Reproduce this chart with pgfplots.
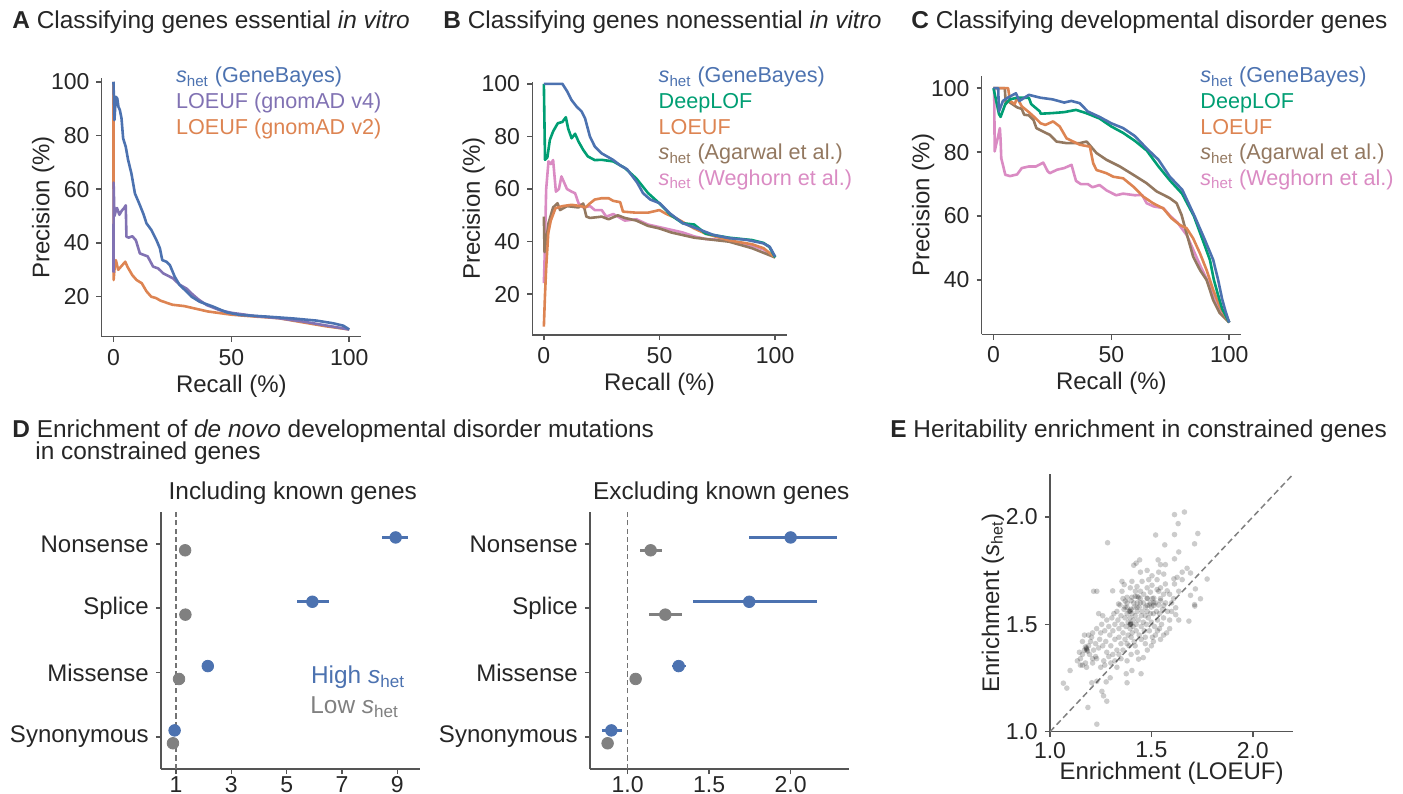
\documentclass[border=0pt]{standalone}
\usepackage{fontspec}
\setmainfont{Liberation Sans}
\usepackage{pgfplots}
\pgfplotsset{compat=1.18}
\definecolor{cblue}{RGB}{76,114,176}
\definecolor{cpurple}{RGB}{129,114,179}
\definecolor{corange}{RGB}{221,132,82}
\definecolor{cgreen}{RGB}{0,158,115}
\definecolor{cbrown}{RGB}{147,120,96}
\definecolor{cpink}{RGB}{218,139,195}
\definecolor{cgray}{RGB}{128,128,128}
\definecolor{spine}{RGB}{85,85,85}
\definecolor{txt}{RGB}{38,38,38}
\newcommand{\fs}[1]{\fontsize{#1}{#1}\selectfont}
\newcommand{\shet}{\textit{s}\textsubscript{het}}

\pgfplotsset{
  panel/.style={
    scale only axis, anchor=south west,
    axis x line*=bottom, axis y line*=left,
    axis line style={line width=0.75pt, draw=spine},
    tick style={line width=0.75pt, draw=spine},
    tick align=outside, major tick length=2.6pt, tick pos=left,
    tick label style={font=\fs{11.5}, text=txt},
    label style={font=\fs{12}, text=txt},
    /pgf/number format/assume math mode=true,
  },
  pr/.style={panel, xmin=-5, xmax=105, xtick={0,50,100},
    xlabel={Recall (\%)}, ylabel={Precision (\%)},
    ylabel shift=-8.5pt, xlabel shift=-2pt},
  curve/.style={no marks, line width=1.3pt, line join=round},
  dot/.style={only marks, mark=*, mark size=2.9pt, #1, mark options={draw=none, fill=#1},
    error bars/.cd, x dir=both, x explicit, error mark=none,
    error bar style={line width=1.3pt, #1}},
  onedec/.style={/pgf/number format/fixed, /pgf/number format/fixed zerofill,
    /pgf/number format/precision=1},
  lowticks/.style={xticklabel style={inner sep=0pt, yshift=-1pt}},
}

\begin{document}
\begin{tikzpicture}

% ---------- A ----------
\begin{axis}[pr, at={(50.85pt,-168.35pt)}, width=129.65pt, height=129.35pt,
  ymin=5.1, ymax=101.4, ytick={20,40,60,80,100}]
\addplot[curve, corange] coordinates {(0,100) (0.05,26.2) (0.5,31) (1,33.6) (2,30) (3,31) (4,32) (5,33) (6,31) (8,28) (9.8,26.2) (12,25) (14,22) (16,20) (18,19.5) (20,18.5) (25,17) (30,16.5) (35,15.5) (40,14.5) (50,13.3) (60,12.6) (70,12) (80,10.5) (90,9) (100,7.8)};
\addplot[curve, cpurple] coordinates {(0,29) (0.05,62.5) (0.4,50) (1,52) (1.5,53) (2.5,50.5) (3.5,52) (4.5,53) (5.2,54) (5.5,42.3) (6.5,42) (8,42.5) (9.5,41) (11.2,36.1) (13,35.5) (14.5,35) (16.8,31.2) (19,30.5) (21.1,28.7) (25.3,26.8) (28,24.5) (31,23) (33.1,21.2) (36,19) (39.5,16.9) (45,15) (50,14) (60,12.8) (70,12) (80,10.8) (90,9.3) (100,7.8)};
\addplot[curve, cblue] coordinates {(0,100) (0.4,85.7) (1,94.4) (1.6,93.8) (2.1,90.7) (2.7,89.5) (3.4,86.4) (4.1,78.9) (5.2,75.8) (6.2,70.9) (7.6,65.9) (9.1,58.4) (10.9,54.7) (12.6,51.0) (14.0,47.3) (16.1,44.8) (18.2,41.1) (19.7,38.0) (20.7,33.6) (22.5,33.0) (23.9,31.8) (26.0,27.4) (28.1,24.3) (31.0,21.9) (33.1,20.0) (36.6,18.1) (42.3,16.3) (47.9,14.2) (53.6,13.2) (64.9,12.6) (76.2,11.9) (86.1,11.1) (93.2,10.1) (97.5,9.2) (100,7.8)};
\end{axis}

% ---------- B ----------
\begin{axis}[pr, at={(266.15pt,-167.5pt)}, width=127.2pt, height=126.65pt,
  ymin=4.5, ymax=100.8, ytick={20,40,60,80,100}]
\addplot[curve, cpink] coordinates {(0,24.2) (0.3,33) (1,60) (2,70.5) (3,69.5) (4,71) (5.2,59) (6.5,60) (7.6,64.8) (10,60) (12,59) (13.5,58.4) (15,54.6) (17,53) (20,53.5) (22,52) (25,52) (27,49.5) (30,50.5) (33,49) (35,48) (40,48.5) (45,46.5) (50,45.5) (55,44.5) (60,43.5) (65,42) (70,41) (80,40.5) (85,39) (90,38.5) (95,37) (100,34)};
\addplot[curve, cbrown] coordinates {(0,49.5) (0.3,36) (1,40) (2,47) (4,53) (5.9,54.6) (7,52) (10,53.5) (15,53) (17,54.5) (18.4,49.5) (20,49) (25,49.5) (28,48.5) (32,50) (35,49) (40,48) (45,46) (50,45) (55,43.5) (60,42.5) (65,41.5) (70,41) (80,40) (90,37.5) (100,34)};
\addplot[curve, corange] coordinates {(0,7.7) (0.5,20) (1,30) (1.9,43.2) (3,48) (5,52.7) (8,53.5) (12,54) (16,53.5) (18,53) (20,54.6) (22,56) (25,56.5) (28,56.5) (30,55.5) (33,55) (34.2,51.4) (40,51) (45,51) (50,52) (53,50.5) (57,49) (60,47.5) (65,45) (70,43) (80,40.5) (90,39) (95,37.5) (100,34)};
\addplot[curve, cgreen] coordinates {(0,100) (0.5,71.1) (1.5,72) (2.6,78.7) (4,81.9) (6,85) (8,85.5) (9.5,87.3) (10.5,83) (12,79.3) (13.5,81) (15,78) (17,74.9) (19,72.4) (22,71) (25,71.1) (30,70.5) (35,68) (40,64) (45,58.5) (50,54.5) (55,50) (60,47) (65,46.5) (70,43) (80,41.5) (90,40.6) (95,39.5) (97.5,38) (100,34)};
\addplot[curve, cblue] coordinates {(0,100) (8,100) (10.1,97.1) (11.9,93.9) (14.1,91.4) (16.3,89.5) (17.8,86.9) (19.9,80) (22,76.2) (24.9,73.6) (29.9,71.1) (33,69) (36,67.5) (40.3,62.5) (42.9,58.4) (46,56) (50.1,54.6) (54.4,50.8) (60.1,47.0) (65.9,45.1) (73.1,42.6) (80.3,41.3) (87.5,40.7) (94.7,39.4) (97.6,38.1) (100,34.3)};
\end{axis}

% ---------- C ----------
\begin{axis}[pr, at={(490.85pt,-167.15pt)}, width=129.65pt, height=129.15pt,
  ymin=23.0, ymax=103.8, ytick={40,60,80,100}]
\addplot[curve, cpink] coordinates {(0,100) (0.3,100) (0.5,80.2) (1,82) (2,85) (2.7,87.5) (3,84) (3.3,78) (4,76) (5,72.9) (7,72.5) (10,73) (12,75) (15,75.5) (18,75.5) (21.1,76.7) (23,74) (23.9,73.4) (27,74.5) (30,75) (33.1,76) (35,71) (37,70) (40,70) (42,69) (45,69.7) (48,68) (52,66.5) (55,67) (60,66.5) (63,66.6) (65,64) (68,63) (72,62.5) (75,60) (78,58) (82,54) (85,49) (88,44) (90,41) (93,36) (96,31) (100,26.7)};
\addplot[curve, cbrown] coordinates {(0,100) (4.8,100) (5.2,95) (6,96) (8,95) (10,94) (12,93.5) (13,91.7) (15,91.5) (17,90) (18.2,87.5) (21.1,86.4) (23.9,85.4) (26.7,83.3) (31,82.8) (36.6,82.8) (39.5,83.3) (43.7,79.7) (47.9,77.6) (53.6,75.5) (59.3,72.9) (64.9,70.3) (69.2,67.7) (74.8,65.6) (77.7,64) (79.8,60.3) (81.9,54.6) (84.7,47.3) (87.6,43.1) (90.4,40) (93.2,33.7) (96,29.6) (100,26.7)};
\addplot[curve, corange] coordinates {(0,100) (6.2,100) (7,96) (9,95) (10,97) (12,94.3) (15,92.5) (18,90.5) (20,89) (22,88.5) (25.3,89.6) (28.1,88) (31,84.3) (33.8,83.3) (36.6,82.3) (40.9,81.7) (42.3,76.5) (43.7,74.4) (47.9,73.4) (50.8,72.3) (55,71.8) (59.3,69.2) (63.5,66.1) (67.7,64) (72,62.4) (75.5,59.3) (79.1,57.2) (81.9,56.2) (84.7,53) (87.6,48.3) (90.4,43.1) (93.2,36.9) (96,31.7) (100,26.7)};
\addplot[curve, cgreen] coordinates {(0,100) (2.3,92) (3,91) (5,95) (7,96.5) (10,97) (15,97) (16,95) (19.7,92.7) (20,92) (25,92.2) (30,92.5) (35,93.2) (38,92.5) (40,92) (45,90.5) (50,88) (55,86) (60,83.5) (65,80.5) (70,75.5) (75,71) (80,67) (85,60) (89,52) (91.8,46.3) (93.5,40) (95,36) (97,31) (100,26.7)};
\addplot[curve, cblue] coordinates {(0,100) (2,100) (2.3,92.7) (4,96) (6,97) (9.5,98.4) (11,96) (15,97.9) (20,97) (25,96.5) (30,95.5) (33,96) (36.6,95.3) (40,92.7) (45,91) (50,89) (55,87.5) (60,85) (64.9,81.2) (70,77.6) (74.8,72.3) (80.1,68.2) (85.4,59.8) (89.7,52.5) (93.2,46.3) (95.3,40) (97,34) (98.5,30) (100,26.7)};
\end{axis}

% ---------- D left ----------
\begin{axis}[panel, lowticks, at={(80.5pt,-384.5pt)}, width=129.5pt, height=128.65pt,
  xmin=0.458, xmax=9.82, ymin=-0.5, ymax=3.5, xtick={1,3,5,7,9},
  ytick={0,1,2,3}, yticklabels={Synonymous,Missense,Splice,Nonsense},
  yticklabel style={font=\fs{12}}]
\addplot[black!55, line width=0.8pt, dash pattern=on 2.6pt off 1.6pt] coordinates {(1,-0.5) (1,3.5)};
\addplot[dot=cgray] coordinates {(1.33,2.9) +- (0.05,0) (1.34,1.9) +- (0.05,0) (1.11,0.9) +- (0.03,0) (0.89,-0.1) +- (0.03,0)};
\addplot[dot=cblue] coordinates {(8.94,3.1) += (0.46,0) -= (0.48,0) (5.93,2.1) += (0.60,0) -= (0.56,0) (2.15,1.1) +- (0.08,0) (0.95,0.1) +- (0.05,0)};
\end{axis}

% ---------- D right ----------
\begin{axis}[panel, lowticks, at={(295pt,-384.5pt)}, width=129.65pt, height=128.65pt,
  xmin=0.769, xmax=2.36, ymin=-0.5, ymax=3.5, xtick={1,1.5,2}, onedec,
  ytick={0,1,2,3}, yticklabels={Synonymous,Missense,Splice,Nonsense},
  yticklabel style={font=\fs{12}}]
\addplot[black!55, line width=0.8pt, dash pattern=on 2.6pt off 1.6pt] coordinates {(1,-0.5) (1,3.5)};
\addplot[dot=cgray] coordinates {(1.141,2.9) += (0.068,0) -= (0.066,0) (1.231,1.9) += (0.104,0) -= (0.101,0) (1.049,0.9) +- (0.012,0) (0.877,-0.1) +- (0.01,0)};
\addplot[dot=cblue] coordinates {(2.0,3.1) += (0.286,0) -= (0.255,0) (1.746,2.1) += (0.413,0) -= (0.347,0) (1.313,1.1) += (0.047,0) -= (0.043,0) (0.90,0.1) += (0.067,0) -= (0.06,0)};
\end{axis}

% ---------- E ----------
\begin{axis}[panel, at={(525pt,-365.85pt)}, width=121.65pt, height=128.85pt,
  xmin=1, xmax=2.2, ymin=1, ymax=2.2, xtick={1,1.5,2}, ytick={1,1.5,2},
  onedec, xticklabel style={yshift=1pt},
  xlabel={Enrichment (LOEUF)}, ylabel={Enrichment (\shet)},
  xlabel shift=-5pt, ylabel shift=-6pt]
\addplot[only marks, mark=*, mark size=1.4pt, mark options={draw opacity=0, fill=black, fill opacity=0.2}] table {
x y
1.663 2.023
1.614 2.011
1.632 1.969
1.729 1.923
1.614 1.918
1.521 1.916
1.284 1.880
1.713 1.875
1.566 1.870
1.635 1.837
1.614 1.805
1.533 1.800
1.442 1.800
1.425 1.785
1.413 1.775
1.446 1.743
1.479 1.751
1.503 1.726
1.545 1.778
1.569 1.778
1.536 1.743
1.561 1.734
1.676 1.761
1.652 1.743
1.693 1.739
1.627 1.719
1.611 1.712
1.652 1.708
1.775 1.711
1.404 1.700
1.454 1.700
1.487 1.708
1.528 1.708
1.569 1.688
1.545 1.670
1.528 1.662
1.503 1.682
1.355 1.700
1.366 1.685
1.396 1.670
1.429 1.676
1.479 1.670
1.614 1.688
1.635 1.654
1.717 1.665
1.693 1.635
1.742 1.619
1.713 1.592
1.620 1.577
1.215 1.654
1.231 1.654
1.309 1.656
1.355 1.654
1.421 1.654
1.446 1.654
1.462 1.640
1.495 1.650
1.536 1.654
1.578 1.656
1.380 1.626
1.404 1.626
1.437 1.626
1.479 1.622
1.512 1.622
1.371 1.608
1.413 1.600
1.446 1.600
1.495 1.600
1.545 1.610
1.338 1.595
1.380 1.580
1.429 1.580
1.479 1.588
1.512 1.588
1.561 1.588
1.635 1.520
1.685 1.515
1.714 1.585
1.620 1.545
1.600 1.560
1.231 1.035
1.187 1.113
1.066 1.226
1.083 1.203
1.099 1.285
1.256 1.188
1.264 1.167
1.280 1.142
1.206 1.228
1.231 1.235
1.277 1.232
1.297 1.251
1.380 1.228
1.376 1.270
1.404 1.285
1.449 1.270
1.330 1.300
1.300 1.320
1.380 1.330
1.437 1.338
1.460 1.345
1.480 1.380
1.500 1.400
1.510 1.420
1.545 1.430
1.560 1.450
1.575 1.460
1.590 1.480
1.530 1.470
1.250 1.300
1.210 1.320
1.230 1.340
1.265 1.330
1.160 1.310
1.180 1.300
1.175 1.320
1.150 1.340
1.160 1.360
1.170 1.380
1.180 1.390
1.185 1.375
1.190 1.400
1.175 1.395
1.195 1.360
1.200 1.420
1.160 1.420
1.170 1.450
1.190 1.450
1.205 1.440
1.215 1.380
1.225 1.350
1.210 1.460
1.145 1.370
1.135 1.330
1.150 1.310
1.210 1.340
1.225 1.410
1.240 1.390
1.245 1.430
1.250 1.460
1.230 1.480
1.255 1.500
1.260 1.540
1.240 1.550
1.270 1.470
1.275 1.420
1.280 1.520
1.290 1.490
1.295 1.450
1.300 1.400
1.305 1.530
1.310 1.470
1.315 1.550
1.320 1.500
1.320 1.430
1.330 1.380
1.330 1.560
1.335 1.520
1.340 1.480
1.340 1.440
1.345 1.590
1.350 1.410
1.350 1.540
1.355 1.500
1.360 1.460
1.360 1.620
1.365 1.570
1.370 1.430
1.370 1.530
1.375 1.490
1.380 1.550
1.380 1.600
1.385 1.450
1.385 1.510
1.390 1.560
1.390 1.400
1.395 1.480
1.395 1.530
1.400 1.500
1.400 1.570
1.400 1.610
1.405 1.460
1.405 1.550
1.410 1.520
1.410 1.490
1.415 1.420
1.415 1.580
1.420 1.540
1.420 1.630
1.425 1.500
1.425 1.470
1.430 1.560
1.430 1.600
1.435 1.520
1.440 1.450
1.440 1.580
1.445 1.620
1.450 1.490
1.450 1.540
1.455 1.560
1.460 1.510
1.460 1.600
1.465 1.470
1.470 1.540
1.470 1.580
1.475 1.500
1.480 1.560
1.480 1.620
1.485 1.530
1.490 1.470
1.490 1.590
1.495 1.550
1.500 1.510
1.500 1.580
1.505 1.620
1.510 1.550
1.515 1.490
1.520 1.600
1.525 1.560
1.530 1.520
1.535 1.590
1.540 1.550
1.545 1.620
1.550 1.500
1.555 1.570
1.560 1.530
1.570 1.600
1.580 1.560
1.590 1.520
1.600 1.600
1.610 1.620
1.590 1.640
1.560 1.640
1.396 1.500
1.396 1.500
1.398 1.505
1.396 1.560
1.394 1.565
1.430 1.630
1.180 1.385
1.182 1.380
1.510 1.600
1.370 1.580
1.260 1.400
1.280 1.370
1.290 1.350
1.310 1.360
1.340 1.360
1.360 1.380
1.350 1.340
1.400 1.440
1.420 1.400
1.380 1.410
1.450 1.430
1.470 1.440
1.320 1.330
1.270 1.310
1.400 1.360
1.430 1.370
1.505 1.440
1.520 1.450
1.540 1.480
1.470 1.410
};
\addplot[cgray, line width=0.75pt, dash pattern=on 3pt off 1.8pt] coordinates {(1,1) (2.2,2.2)};
\end{axis}

% ---------- texts ----------
\begin{scope}[x=0.5pt, y=-0.5pt, every node/.style={inner sep=0pt, text=txt, font=\fs{12.2}}]
\node[anchor=base west] at (12,28.3) {\textbf{A} Classifying genes essential \textit{in vitro}};
\node[anchor=base west] at (443,28.3) {\textbf{B} Classifying genes nonessential \textit{in vitro}};
\node[anchor=base west] at (911,28.3) {\textbf{C} Classifying developmental disorder genes};
\node[anchor=base west] at (12,437) {\textbf{D} Enrichment of \textit{de novo} developmental disorder mutations};
\node[anchor=base west] at (35,459) {in constrained genes};
\node[anchor=base west] at (890,437) {\textbf{E} Heritability enrichment in constrained genes};
\node[anchor=base] at (292.8,499) {Including known genes};
\node[anchor=base] at (721.3,499) {Excluding known genes};
\begin{scope}[every node/.append style={font=\fs{10.8}}]
\node[anchor=base west, text=cblue] at (175.7,82.7) {\shet{} (GeneBayes)};
\node[anchor=base west, text=cpurple] at (175.7,108.4) {LOEUF (gnomAD v4)};
\node[anchor=base west, text=corange] at (175.7,134.1) {LOEUF (gnomAD v2)};
\node[anchor=base west, text=cblue] at (658.3,82.7) {\shet{} (GeneBayes)};
\node[anchor=base west, text=cgreen] at (658.3,108.4) {DeepLOF};
\node[anchor=base west, text=corange] at (658.3,134.1) {LOEUF};
\node[anchor=base west, text=cbrown] at (658.3,159.8) {\shet{} (Agarwal et al.)};
\node[anchor=base west, text=cpink] at (658.3,185.5) {\shet{} (Weghorn et al.)};
\node[anchor=base west, text=cblue] at (1200,82.7) {\shet{} (GeneBayes)};
\node[anchor=base west, text=cgreen] at (1200,108.4) {DeepLOF};
\node[anchor=base west, text=corange] at (1200,134.1) {LOEUF};
\node[anchor=base west, text=cbrown] at (1200,159.8) {\shet{} (Agarwal et al.)};
\node[anchor=base west, text=cpink] at (1200,185.5) {\shet{} (Weghorn et al.)};
\end{scope}
\node[anchor=base west, text=cblue] at (310.7,683.3) {High \shet};
\node[anchor=base west, text=cgray] at (310,713.3) {Low \shet};
\end{scope}

\pgfresetboundingbox
\useasboundingbox (0pt,0pt) rectangle (701.5pt,-396.5pt);
\end{tikzpicture}
\end{document}
